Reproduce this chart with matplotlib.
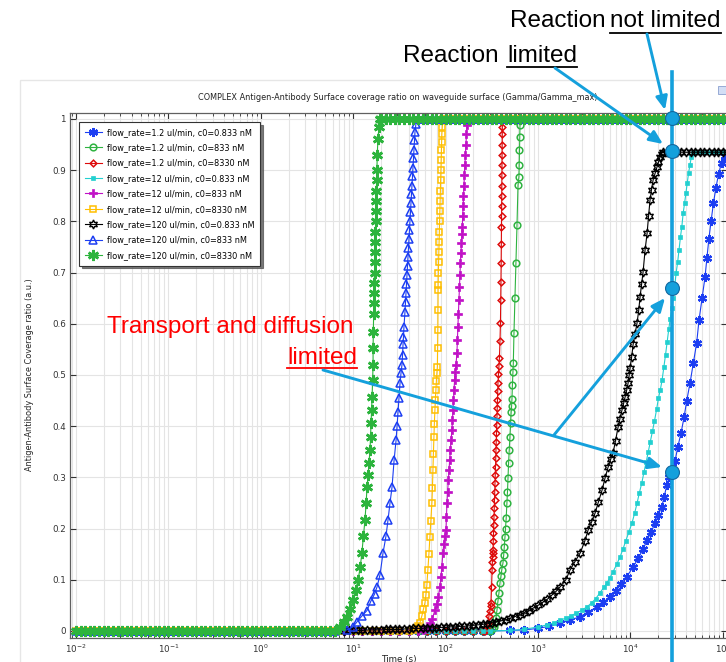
import matplotlib
matplotlib.use("Agg")
import matplotlib.pyplot as plt
from matplotlib.lines import Line2D
from matplotlib.patches import FancyArrowPatch, Rectangle
from matplotlib.ticker import LogLocator, FixedLocator, FuncFormatter, NullFormatter

W, H = 726, 662

# ── Data (time in s, Gamma/Gamma_max) ─────────────────────────────
labels = [
    "flow_rate=1.2 ul/min, c0=0.833 nM",
    "flow_rate=1.2 ul/min, c0=833 nM",
    "flow_rate=1.2 ul/min, c0=8330 nM",
    "flow_rate=12 ul/min, c0=0.833 nM",
    "flow_rate=12 ul/min, c0=833 nM",
    "flow_rate=12 ul/min, c0=8330 nM",
    "flow_rate=120 ul/min, c0=0.833 nM",
    "flow_rate=120 ul/min, c0=833 nM",
    "flow_rate=120 ul/min, c0=8330 nM",
]

# early part, every curve still at zero
lead_t = [0.01, 0.0112, 0.0126, 0.0141, 0.0158, 0.0178, 0.02, 0.0224, 0.0251, 0.0282,
          0.0316, 0.0355, 0.0398, 0.0447, 0.0501, 0.0562, 0.0631, 0.0708, 0.0794, 0.0891,
          0.1, 0.112, 0.126, 0.141, 0.158, 0.178, 0.2, 0.224, 0.251, 0.282,
          0.316, 0.355, 0.398, 0.447, 0.501, 0.562, 0.631, 0.708, 0.794, 0.891,
          1.0, 1.12, 1.26, 1.41, 1.58, 1.78, 2.0, 2.24, 2.51, 2.82,
          3.16, 3.55, 3.98, 4.47, 5.01, 5.62, 6.31]
lead_y = [0, 0, 0, 0, 0, 0, 0, 0, 0, 0,
          0, 0, 0, 0, 0, 0, 0, 0, 0, 0,
          0, 0, 0, 0, 0, 0, 0, 0, 0, 0,
          0, 0, 0, 0, 0, 0, 0, 0, 0, 0,
          0, 0, 0, 0, 0, 0, 0, 0, 0, 0,
          0, 0, 0, 0, 0, 0, 0]

# baseline of the slower cases before they start
base_t = [7.94, 10, 12.6, 15.8, 20, 25.1, 31.6, 39.8, 50.1, 63.1, 79.4, 100, 126, 158, 200, 251]
base_y = [0, 0, 0, 0, 0, 0, 0, 0, 0, 0, 0, 0, 0, 0, 0, 0]

# saturated surface (ratio = 1)
top_t = [20, 22.4, 25.1, 28.2, 31.6, 35.5, 39.8, 44.7, 50.1, 56.2,
         63.1, 70.8, 79.4, 89.1, 100, 112, 126, 141, 158, 178,
         200, 224, 251, 282, 316, 355, 398, 447, 501, 562,
         631, 708, 794, 891, 1000, 1120, 1260, 1410, 1580, 1780,
         2000, 2240, 2510, 2820, 3160, 3550, 3980, 4470, 5010, 5620,
         6310, 7080, 7940, 8910, 10000, 11200, 12600, 14100, 15800, 17800,
         20000, 22400, 25100, 28200, 31600, 35500, 39800, 44700, 50100, 56200,
         63100, 70800, 79400, 89100, 100000, 112000]
top_y = [1.0, 1.0, 1.0, 1.0, 1.0, 1.0, 1.0, 1.0, 1.0, 1.0,
         1.0, 1.0, 1.0, 1.0, 1.0, 1.0, 1.0, 1.0, 1.0, 1.0,
         1.0, 1.0, 1.0, 1.0, 1.0, 1.0, 1.0, 1.0, 1.0, 1.0,
         1.0, 1.0, 1.0, 1.0, 1.0, 1.0, 1.0, 1.0, 1.0, 1.0,
         1.0, 1.0, 1.0, 1.0, 1.0, 1.0, 1.0, 1.0, 1.0, 1.0,
         1.0, 1.0, 1.0, 1.0, 1.0, 1.0, 1.0, 1.0, 1.0, 1.0,
         1.0, 1.0, 1.0, 1.0, 1.0, 1.0, 1.0, 1.0, 1.0, 1.0,
         1.0, 1.0, 1.0, 1.0, 1.0, 1.0]

# plateau of the 0.833 nM cases
plat_t = [25100, 28200, 31600, 35500, 39800, 44700, 50100, 56200, 63100, 70800,
          79400, 89100, 100000, 112000]
plat_y = [0.935, 0.935, 0.935, 0.935, 0.935, 0.935, 0.935, 0.935, 0.935, 0.935,
          0.935, 0.935, 0.935, 0.935]

s1_t = [300, 500, 700, 1000, 1300, 1730, 2200, 2850, 3500, 4320,
        5100, 6010, 7000, 8000, 9120, 10600, 12190, 13700, 15240, 16800,
        18450, 20100, 21800, 23200, 24700, 26300, 28000, 30400, 32500, 35300,
        38000, 40600, 44200, 48000, 52100, 55200, 59600, 64100, 67200, 70500,
        74500, 79000, 84000, 90000, 97000, 105000, 118000]
s1_y = [0.0, 0.001, 0.002, 0.005, 0.009, 0.015, 0.021, 0.028, 0.037, 0.047,
        0.056, 0.067, 0.079, 0.092, 0.106, 0.124, 0.142, 0.16, 0.178, 0.194,
        0.21, 0.227, 0.243, 0.262, 0.285, 0.3, 0.315, 0.332, 0.359, 0.387,
        0.417, 0.449, 0.485, 0.524, 0.563, 0.607, 0.65, 0.691, 0.728, 0.765,
        0.80, 0.835, 0.865, 0.893, 0.915, 0.928, 0.935]

s2_t = [300, 318, 330, 340, 350, 359.6, 368, 378, 387.5, 397,
        405, 417.5, 425, 432, 438.9, 445, 452, 461.3, 467, 473,
        480, 488, 497, 505, 512, 518, 522.5, 528, 535.7, 540,
        549, 563, 577, 592, 607, 622, 626, 630, 634, 638]
s2_y = [0, 0.003, 0.008, 0.015, 0.025, 0.041, 0.058, 0.075, 0.094, 0.108,
        0.119, 0.133, 0.148, 0.165, 0.184, 0.2, 0.22, 0.25, 0.272, 0.298,
        0.328, 0.354, 0.379, 0.406, 0.428, 0.44, 0.454, 0.48, 0.506, 0.523,
        0.582, 0.65, 0.719, 0.793, 0.871, 0.887, 0.91, 0.94, 0.965, 0.988]

s3_t = [270, 280.5, 287.6, 294.8, 302.2, 306, 309.8, 313.7, 317.6, 320,
        322, 324, 325.6, 327.5, 329.5, 331.5, 333.8, 336, 338, 340,
        342.2, 344.5, 346.5, 348.5, 350.8, 353, 355, 357.5, 359.6, 362,
        364, 366.5, 368.7, 373, 378, 382, 387.5, 392, 395, 397.2,
        399, 400.5, 402, 402.8, 403.5, 404.2, 405, 405.7, 406.4, 407.2,
        408.2, 409.5, 411, 417.5]
s3_y = [0, 0.003, 0.016, 0.03, 0.04, 0.048, 0.055, 0.085, 0.119, 0.135,
        0.145, 0.152, 0.158, 0.175, 0.191, 0.207, 0.223, 0.24, 0.256, 0.272,
        0.289, 0.305, 0.321, 0.338, 0.354, 0.37, 0.387, 0.403, 0.42, 0.436,
        0.452, 0.469, 0.485, 0.501, 0.517, 0.533, 0.566, 0.602, 0.646, 0.682,
        0.719, 0.755, 0.789, 0.81, 0.83, 0.85, 0.87, 0.89, 0.91, 0.93,
        0.95, 0.97, 0.985, 1.0]

s4_t = [300, 500, 700, 1000, 1260, 1500, 1730, 2000, 2300, 2600,
        3000, 3390, 3800, 4200, 4700, 5200, 5580, 6000, 6500, 7100,
        7730, 8300, 8900, 9600, 10400, 11100, 11800, 12500, 13300, 14000,
        14800, 15600, 16400, 17300, 18200, 19200, 20100, 21000, 22000, 23000,
        24000, 25000, 26000, 27000, 28000, 29000, 30200, 31200, 32400, 33600,
        34800, 36000, 37200, 38500, 39800, 41200, 42600, 44000, 45500, 47500]
s4_y = [0, 0.001, 0.003, 0.008, 0.012, 0.016, 0.021, 0.025, 0.03, 0.035,
        0.041, 0.047, 0.055, 0.063, 0.075, 0.086, 0.094, 0.104, 0.116, 0.13,
        0.145, 0.16, 0.176, 0.193, 0.211, 0.23, 0.25, 0.27, 0.29, 0.31,
        0.33, 0.35, 0.37, 0.39, 0.41, 0.433, 0.455, 0.47, 0.49, 0.515,
        0.54, 0.565, 0.59, 0.61, 0.63, 0.65, 0.675, 0.699, 0.72, 0.745,
        0.77, 0.79, 0.816, 0.835, 0.855, 0.875, 0.895, 0.91, 0.925, 0.934]

s5_t = [57, 60, 64.3, 68, 72, 76.5, 80, 83, 86.6, 89,
        91, 93.3, 95.5, 97.5, 100.9, 102, 103.4, 105, 107, 108.7,
        110.5, 112.5, 114.5, 117, 118.5, 120, 121.5, 123, 125, 127,
        129.3, 132.5, 134, 135.9, 137.5, 139.3, 141, 142.8, 144.5, 146.4,
        148, 150, 151.5, 153, 154.5, 156, 157.7, 159.5, 161.6, 163.5,
        165.7, 168, 170]
s5_y = [0.001, 0.003, 0.008, 0.015, 0.024, 0.041, 0.052, 0.066, 0.086, 0.105,
        0.125, 0.152, 0.17, 0.185, 0.197, 0.223, 0.249, 0.272, 0.295, 0.314,
        0.334, 0.354, 0.373, 0.393, 0.412, 0.432, 0.451, 0.471, 0.49, 0.506,
        0.52, 0.542, 0.568, 0.594, 0.62, 0.646, 0.672, 0.695, 0.718, 0.738,
        0.757, 0.775, 0.79, 0.81, 0.83, 0.85, 0.87, 0.89, 0.91, 0.93,
        0.95, 0.97, 0.988]

s6_t = [44.4, 48.0, 50.1, 52.7, 55.4, 57.5, 59.7, 61.2, 62.7, 64.3,
        65.9, 67.6, 69.3, 71.0, 72.0, 72.8, 73.7, 74.6, 75.5, 76.5,
        77.4, 78.4, 79.4, 80.4, 81.4, 82.0, 82.4, 82.6, 82.8, 83.0,
        83.4, 84.0, 84.5, 85.0, 85.5, 86.0, 86.6, 87.2, 87.7, 88.3,
        88.8, 89.4, 90.0, 90.5, 91.0, 92.0, 93.3]
s6_y = [0.002, 0.006, 0.01, 0.016, 0.03, 0.042, 0.055, 0.07, 0.09, 0.119,
        0.15, 0.184, 0.215, 0.25, 0.28, 0.314, 0.345, 0.379, 0.405, 0.432,
        0.452, 0.471, 0.488, 0.504, 0.516, 0.553, 0.588, 0.627, 0.666, 0.676,
        0.699, 0.72, 0.74, 0.76, 0.78, 0.80, 0.82, 0.84, 0.86, 0.88,
        0.90, 0.92, 0.94, 0.955, 0.97, 0.984, 1.0]

s7_t = [8, 8.9, 10, 11.2, 12.6, 14.1, 15.8, 17.8, 20, 22.4,
        25.1, 28.2, 31.6, 35.5, 39.8, 44.7, 50.1, 56.2, 63.1, 70.8,
        79.4, 89.1, 100, 112, 126, 141, 158, 178, 200, 224,
        251, 282, 316, 355, 398, 447, 501, 562, 631, 708,
        794, 891, 1000, 1120, 1260, 1410, 1580, 1730, 2000, 2220,
        2500, 2850, 3200, 3480, 3800, 4140, 4500, 4930, 5300, 5730,
        6100, 6490, 6900, 7350, 7700, 8120, 8450, 8750, 9100, 9430,
        9700, 9910, 10300, 10700, 11200, 11800, 12300, 12700, 13200, 13700,
        14400, 15150, 15700, 16300, 16900, 17600, 18500, 19400, 20100, 20900,
        21700, 22500]
s7_y = [0, 0.001, 0.001, 0.001, 0.001, 0.002, 0.002, 0.002, 0.002, 0.003,
        0.003, 0.003, 0.003, 0.004, 0.004, 0.005, 0.005, 0.005, 0.006, 0.006,
        0.006, 0.007, 0.007, 0.008, 0.008, 0.009, 0.009, 0.01, 0.011, 0.012,
        0.013, 0.014, 0.016, 0.018, 0.02, 0.022, 0.025, 0.028, 0.032, 0.036,
        0.04, 0.045, 0.05, 0.056, 0.062, 0.07, 0.078, 0.086, 0.1, 0.119,
        0.135, 0.152, 0.175, 0.197, 0.213, 0.23, 0.252, 0.275, 0.298, 0.32,
        0.335, 0.348, 0.372, 0.398, 0.415, 0.432, 0.445, 0.457, 0.47, 0.484,
        0.5, 0.514, 0.535, 0.56, 0.58, 0.602, 0.627, 0.652, 0.677, 0.701,
        0.744, 0.777, 0.81, 0.842, 0.862, 0.881, 0.894, 0.906, 0.916, 0.926,
        0.932, 0.936]

s8_t = [8.5, 9.95, 11.0, 12.5, 14.1, 15.5, 17.0, 18.1, 19.5, 21.0,
        22.6, 23.8, 25.0, 26.3, 27.7, 29.1, 29.8, 30.5, 31.3, 32.1,
        32.9, 33.7, 34.2, 34.6, 35.0, 35.4, 36.3, 36.8, 37.2, 37.7,
        38.2, 38.7, 39.1, 39.6, 40.1, 40.6, 41.1, 41.6, 42.2, 42.7,
        43.2, 43.7, 44.3, 44.8, 45.4, 46.0, 46.6, 47.7]
s8_y = [0.002, 0.008, 0.018, 0.03, 0.04, 0.058, 0.072, 0.086, 0.11, 0.152,
        0.185, 0.217, 0.25, 0.281, 0.334, 0.373, 0.40, 0.428, 0.455, 0.484,
        0.504, 0.52, 0.54, 0.56, 0.575, 0.594, 0.623, 0.643, 0.66, 0.678,
        0.695, 0.713, 0.73, 0.748, 0.765, 0.783, 0.80, 0.818, 0.836, 0.853,
        0.87, 0.888, 0.905, 0.923, 0.94, 0.958, 0.975, 0.99]

s9_t = [7.2, 7.9, 8.6, 9.2, 9.9, 10.6, 11.3, 11.9, 12.4, 12.9,
        13.4, 13.8, 14.1, 14.5, 14.8, 15.2, 15.4, 15.6, 15.8, 16.0,
        16.2, 16.4, 16.4, 16.5, 16.6, 16.7, 16.8, 16.9, 17.0, 17.1,
        17.2, 17.3, 17.4, 17.5, 17.6, 17.7, 17.8, 17.9, 18.0, 18.2,
        18.5, 19.0, 19.5]
s9_y = [0.008, 0.017, 0.027, 0.043, 0.06, 0.08, 0.10, 0.125, 0.152, 0.185,
        0.217, 0.25, 0.281, 0.305, 0.328, 0.354, 0.379, 0.406, 0.432, 0.457,
        0.49, 0.52, 0.553, 0.584, 0.62, 0.64, 0.66, 0.68, 0.70, 0.72,
        0.74, 0.76, 0.78, 0.80, 0.82, 0.84, 0.86, 0.88, 0.90, 0.93,
        0.96, 0.985, 1.0]

x_ticks = [1e-2, 1e-1, 1e0, 1e1, 1e2, 1e3, 1e4, 1e5]
y_ticks = [0, 0.1, 0.2, 0.3, 0.4, 0.5, 0.6, 0.7, 0.8, 0.9, 1]


def before(ts, ys, t0):
    pairs = [(t, y) for t, y in zip(ts, ys) if t < t0]
    return [p[0] for p in pairs], [p[1] for p in pairs]


def after(ts, ys, t0):
    pairs = [(t, y) for t, y in zip(ts, ys) if t > t0]
    return [p[0] for p in pairs], [p[1] for p in pairs]


def build(rise_t, rise_y, base=True, tail=None):
    t, y = list(lead_t), list(lead_y)
    if base:
        bt, by = before(base_t, base_y, rise_t[0])
        t += bt
        y += by
    t += rise_t
    y += rise_y
    if tail is not None:
        tt, ty = after(tail[0], tail[1], rise_t[-1])
        t += tt
        y += ty
    return t, y


TOP = (top_t, top_y)
PLAT = (plat_t, plat_y)
curves = [
    build(s1_t, s1_y),
    build(s2_t, s2_y, tail=TOP),
    build(s3_t, s3_y, tail=TOP),
    build(s4_t, s4_y, tail=PLAT),
    build(s5_t, s5_y, tail=TOP),
    build(s6_t, s6_y, tail=TOP),
    build(s7_t, s7_y, base=False, tail=PLAT),
    build(s8_t, s8_y, base=False, tail=TOP),
    build(s9_t, s9_y, base=False, tail=TOP),
]

styles = [
    dict(color="#1c3ef2", marker=(6, 2, 0), ms=6.5, mew=1.6),
    dict(color="#2fb341", marker="o", ms=4.8, mew=1.1, mfc="none"),
    dict(color="#dd0a0a", marker="D", ms=3.4, mew=1.1, mfc="none"),
    dict(color="#22d0d0", marker="s", ms=3.2, mew=0.5),
    dict(color="#c011c6", marker="P", ms=5.5, mew=0.5),
    dict(color="#ffbf00", marker="s", ms=4.8, mew=1.1, mfc="none"),
    dict(color="#000000", marker=(6, 1, 0), ms=6.5, mew=1.0, mfc="none"),
    dict(color="#1c3ef2", marker="^", ms=5.5, mew=1.1, mfc="none"),
    dict(color="#2db43d", marker=(6, 2, 0), ms=8, mew=1.9),
]

ANN = "#14a0dc"

# ── Figure ───────────────────────────────────────────────────────
fig = plt.figure(figsize=(W / 100, H / 100), dpi=100)
fig.patch.set_facecolor("white")

# faint frame of the plot window
fig.add_artist(Rectangle((20 / W, -0.1), 1.2, 1 - 80 / H + 0.1, transform=fig.transFigure,
                         fill=False, ec="#e6e6e6", lw=1.0))
fig.add_artist(Rectangle((718 / W, 1 - 94 / H), 8 / W, 8 / H, transform=fig.transFigure,
                         fc="#d3def5", ec="#8aa0d0", lw=0.6))

ax = fig.add_axes([70 / W, 1 - 638 / H, (727 - 70) / W, (638 - 113) / H])

for (t, y), lab, st in zip(curves, labels, styles):
    ax.plot(t, y, lw=0.8, label=lab, **st)

ax.set_xscale("log")
ax.set_xlim(0.00861, 110900)
ax.set_ylim(-0.0137, 1.0117)
ax.xaxis.set_major_locator(FixedLocator(x_ticks))
ax.xaxis.set_minor_locator(LogLocator(base=10, subs=range(2, 10), numticks=12))
ax.xaxis.set_minor_formatter(NullFormatter())
ax.yaxis.set_major_locator(FixedLocator(y_ticks))
ax.yaxis.set_major_formatter(FuncFormatter(lambda v, _: "%g" % v))

ax.grid(True, which="major", color="#e4e4e4", lw=0.8)
ax.grid(True, which="minor", axis="x", color="#e4e4e4", lw=0.8)
ax.set_axisbelow(True)
ax.tick_params(which="both", direction="in", top=True, right=True,
               labelsize=6.3, colors="#333333", pad=3)
ax.tick_params(which="major", length=4, width=0.8)
ax.tick_params(which="minor", length=2.5, width=0.6)
for sp in ax.spines.values():
    sp.set_color("#606060")
    sp.set_linewidth(0.9)

ax.set_xlabel("Time (s)", fontsize=6.3, labelpad=0, color="#222222")
fig.text(30 / W, 1 - 375 / H, "Antigen-Antibody Surface Coverage ratio (a.u.)",
         rotation=90, ha="center", va="center", fontsize=5.9, color="#222222")
fig.text(398 / W, 1 - 97 / H,
         "COMPLEX Antigen-Antibody Surface coverage ratio on waveguide surface (Gamma/Gamma_max)",
         ha="center", va="center", fontsize=5.9, color="#222222")

leg = ax.legend(loc="upper left", bbox_to_anchor=(9 / 657, 1 - 9 / 525), borderaxespad=0,
                fontsize=5.9, fancybox=False, shadow={"color": "0.35", "alpha": 0.8},
                edgecolor="#333333", framealpha=1, handlelength=2.1, handletextpad=0.6,
                borderpad=0.7, labelspacing=0.78)
leg.get_frame().set_linewidth(0.8)

# ── Annotations (figure pixels) ──────────────────────────────────
def fx(x):
    return x / W


def fy(y):
    return 1 - y / H


fig.add_artist(Line2D([fx(672), fx(672)], [fy(72), fy(662)], transform=fig.transFigure,
                      color=ANN, lw=2.6, zorder=20))

arrows = [((647, 34), (665, 110)), ((555, 68), (663, 144)),
          ((323, 370), (662, 467)), ((554, 435), (665, 298))]
for (x0, y0), (x1, y1) in arrows:
    fig.add_artist(FancyArrowPatch((fx(x0), fy(y0)), (fx(x1), fy(y1)),
                                   transform=fig.transFigure, color=ANN, lw=2.1,
                                   arrowstyle="-|>,head_length=0.8,head_width=0.35",
                                   mutation_scale=10, shrinkA=0, shrinkB=0, zorder=21))

for cy in (118, 151, 288, 472):
    fig.add_artist(Line2D([fx(672)], [fy(cy)], transform=fig.transFigure, marker="o",
                          ms=10, mfc=ANN, mec="#1268a0", mew=0.8, zorder=22))

renderer = fig.canvas.get_renderer()


def put(x, base, s, color):
    return fig.text(fx(x), fy(base), s, color=color, fontsize=17.5,
                    family="Liberation Sans", ha="left", va="baseline")


def underline(t, y, color):
    bb = t.get_window_extent(renderer=renderer)
    fig.add_artist(Line2D([bb.x0 / W, bb.x1 / W], [fy(y), fy(y)],
                          transform=fig.transFigure, color=color, lw=1.3))


put(510, 27, "Reaction", "black")
underline(put(610, 27, "not limited", "black"), 32.5, "black")
put(403, 62, "Reaction", "black")
underline(put(507, 62, "limited", "black"), 67, "black")
put(107, 333, "Transport and diffusion", "#ff0000")
underline(put(287, 364, "limited", "#ff0000"), 368, "#ff0000")

fig.savefig("out.png", dpi=100)
